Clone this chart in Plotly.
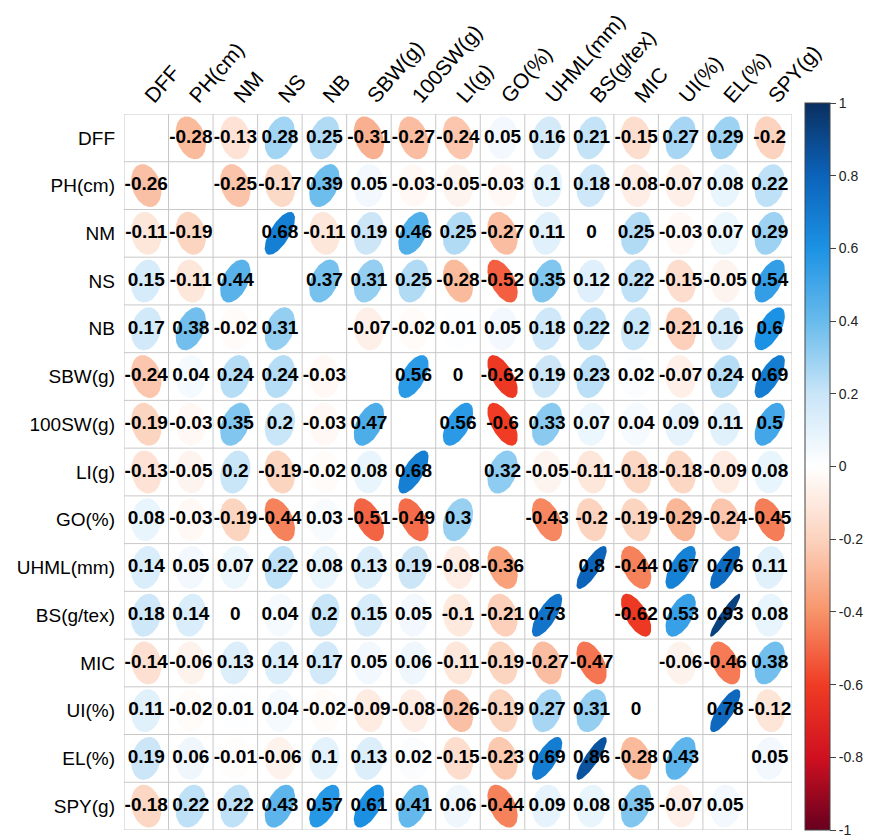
import numpy as np
import plotly.graph_objects as go

LABELS = ["DFF", "PH(cm)", "NM", "NS", "NB", "SBW(g)", "100SW(g)", "LI(g)",
          "GO(%)", "UHML(mm)", "BS(g/tex)", "MIC", "UI(%)", "EL(%)", "SPY(g)"]

# correlation rows (upper and lower triangles hold different estimates)
R_DFF = [None, -0.28, -0.13, 0.28, 0.25, -0.31, -0.27, -0.24, 0.05, 0.16, 0.21, -0.15, 0.27, 0.29, -0.2]
R_PH = [-0.26, None, -0.25, -0.17, 0.39, 0.05, -0.03, -0.05, -0.03, 0.1, 0.18, -0.08, -0.07, 0.08, 0.22]
R_NM = [-0.11, -0.19, None, 0.68, -0.11, 0.19, 0.46, 0.25, -0.27, 0.11, 0, 0.25, -0.03, 0.07, 0.29]
R_NS = [0.15, -0.11, 0.44, None, 0.37, 0.31, 0.25, -0.28, -0.52, 0.35, 0.12, 0.22, -0.15, -0.05, 0.54]
R_NB = [0.17, 0.38, -0.02, 0.31, None, -0.07, -0.02, 0.01, 0.05, 0.18, 0.22, 0.2, -0.21, 0.16, 0.6]
R_SBW = [-0.24, 0.04, 0.24, 0.24, -0.03, None, 0.56, 0, -0.62, 0.19, 0.23, 0.02, -0.07, 0.24, 0.69]
R_100SW = [-0.19, -0.03, 0.35, 0.2, -0.03, 0.47, None, 0.56, -0.6, 0.33, 0.07, 0.04, 0.09, 0.11, 0.5]
R_LI = [-0.13, -0.05, 0.2, -0.19, -0.02, 0.08, 0.68, None, 0.32, -0.05, -0.11, -0.18, -0.18, -0.09, 0.08]
R_GO = [0.08, -0.03, -0.19, -0.44, 0.03, -0.51, -0.49, 0.3, None, -0.43, -0.2, -0.19, -0.29, -0.24, -0.45]
R_UHML = [0.14, 0.05, 0.07, 0.22, 0.08, 0.13, 0.19, -0.08, -0.36, None, 0.8, -0.44, 0.67, 0.76, 0.11]
R_BS = [0.18, 0.14, 0, 0.04, 0.2, 0.15, 0.05, -0.1, -0.21, 0.73, None, -0.62, 0.53, 0.93, 0.08]
R_MIC = [-0.14, -0.06, 0.13, 0.14, 0.17, 0.05, 0.06, -0.11, -0.19, -0.27, -0.47, None, -0.06, -0.46, 0.38]
R_UI = [0.11, -0.02, 0.01, 0.04, -0.02, -0.09, -0.08, -0.26, -0.19, 0.27, 0.31, 0, None, 0.78, -0.12]
R_EL = [0.19, 0.06, -0.01, -0.06, 0.1, 0.13, 0.02, -0.15, -0.23, 0.69, 0.86, -0.28, 0.43, None, 0.05]
R_SPY = [-0.18, 0.22, 0.22, 0.43, 0.57, 0.61, 0.41, 0.06, -0.44, 0.09, 0.08, 0.35, -0.07, 0.05, None]

CORR = [R_DFF, R_PH, R_NM, R_NS, R_NB, R_SBW, R_100SW, R_LI, R_GO,
        R_UHML, R_BS, R_MIC, R_UI, R_EL, R_SPY]

COLORBAR_TICKS = [-1, -0.8, -0.6, -0.4, -0.2, 0, 0.2, 0.4, 0.6, 0.8, 1]

PALETTE = [(-1.0, "#67001F"), (-0.8, "#D01020"), (-0.6, "#F03C24"),
           (-0.4, "#F7946A"), (-0.2, "#FCD3BE"), (0.0, "#FFFFFF"),
           (0.2, "#C9E5F8"), (0.4, "#68BBEC"), (0.6, "#1C92E4"),
           (0.8, "#0B63BA"), (1.0, "#0A2F60")]

# ellipse extent within a cell (horizontal, vertical)
ELL_SX, ELL_SY = 0.68, 0.9


def hex_rgb(h):
    h = h.lstrip("#")
    return [int(h[i:i + 2], 16) for i in (0, 2, 4)]


def value_color(v):
    for (a, ca), (b, cb) in zip(PALETTE[:-1], PALETTE[1:]):
        if a <= v <= b:
            f = (v - a) / (b - a)
            c1, c2 = hex_rgb(ca), hex_rgb(cb)
            rgb = [round(c1[k] + f * (c2[k] - c1[k])) for k in range(3)]
            return "rgb(%d,%d,%d)" % tuple(rgb)
    return PALETTE[-1][1]


def fmt(v):
    s = f"{v:g}"
    return "0" if s in ("-0", "0") else s


n = len(LABELS)
fig = go.Figure()

# ellipses: shape and tilt follow the correlation value
t = np.linspace(0, 2 * np.pi, 99)
text_x, text_y, text_s = [], [], []
for i, row in enumerate(CORR):
    for j, v in enumerate(row):
        if v is None:
            continue
        a = np.arccos(v)
        ex = ELL_SX * np.cos(t + a / 2) / 2
        ey = ELL_SY * np.cos(t - a / 2) / 2
        col = value_color(v)
        fig.add_trace(go.Scatter(
            x=(j + 1) + ex, y=(i + 1) - ey, mode="lines", fill="toself",
            fillcolor=col, line=dict(width=0, color=col),
            hoverinfo="skip", showlegend=False))
        text_x.append(j + 1)
        text_y.append(i + 1)
        text_s.append(fmt(v))

fig.add_trace(go.Scatter(
    x=text_x, y=text_y, text=text_s, mode="text",
    textfont=dict(family="Liberation Sans Narrow, Liberation Sans, Arial", size=19,
                  color="black", weight="bold"),
    hoverinfo="skip", showlegend=False))

# colour scale legend
cs = [[(p + 1) / 2, c] for p, c in PALETTE]
fig.add_trace(go.Scatter(
    x=[None], y=[None], mode="markers", showlegend=False, hoverinfo="skip",
    marker=dict(color=[0], cmin=-1, cmax=1, colorscale=cs, showscale=True,
                colorbar=dict(
                    x=(805 - 124) / 668, xanchor="left", xpad=0,
                    y=0, yanchor="bottom", ypad=0,
                    len=727, lenmode="pixels", thickness=25,
                    outlinecolor="#444", outlinewidth=1,
                    tickmode="array", tickvals=COLORBAR_TICKS,
                    ticktext=[fmt(v) for v in COLORBAR_TICKS],
                    ticks="outside", ticklen=6, tickcolor="#444",
                    tickfont=dict(family="Liberation Sans, Arial", size=14, color="#222")))))

# cell grid
shapes = []
for k in range(n + 1):
    p = k + 0.5
    shapes.append(dict(type="line", xref="x", yref="y", x0=p, x1=p, y0=0.5, y1=n + 0.5,
                       line=dict(color="#C8C8C8", width=1)))
    shapes.append(dict(type="line", xref="x", yref="y", x0=0.5, x1=n + 0.5, y0=p, y1=p,
                       line=dict(color="#C8C8C8", width=1)))

fig.update_layout(
    width=879, height=840,
    margin=dict(l=124, r=87, t=107, b=10),
    paper_bgcolor="white", plot_bgcolor="white",
    shapes=shapes,
    font=dict(family="Liberation Sans, Arial", color="black"),
    xaxis=dict(range=[0.5, n + 0.5], side="top", tickmode="array",
               tickvals=list(range(1, n + 1)), ticktext=LABELS, tickangle=-49,
               tickfont=dict(size=21, color="black"), showgrid=False, zeroline=False,
               ticks="", ticklabelstandoff=1, fixedrange=True),
    yaxis=dict(range=[n + 0.5, 0.5], tickmode="array",
               tickvals=list(range(1, n + 1)), ticktext=LABELS,
               tickfont=dict(size=19, color="black"), showgrid=False, zeroline=False,
               ticks="", ticklabelstandoff=8, fixedrange=True),
)

fig.write_html("out.html")
